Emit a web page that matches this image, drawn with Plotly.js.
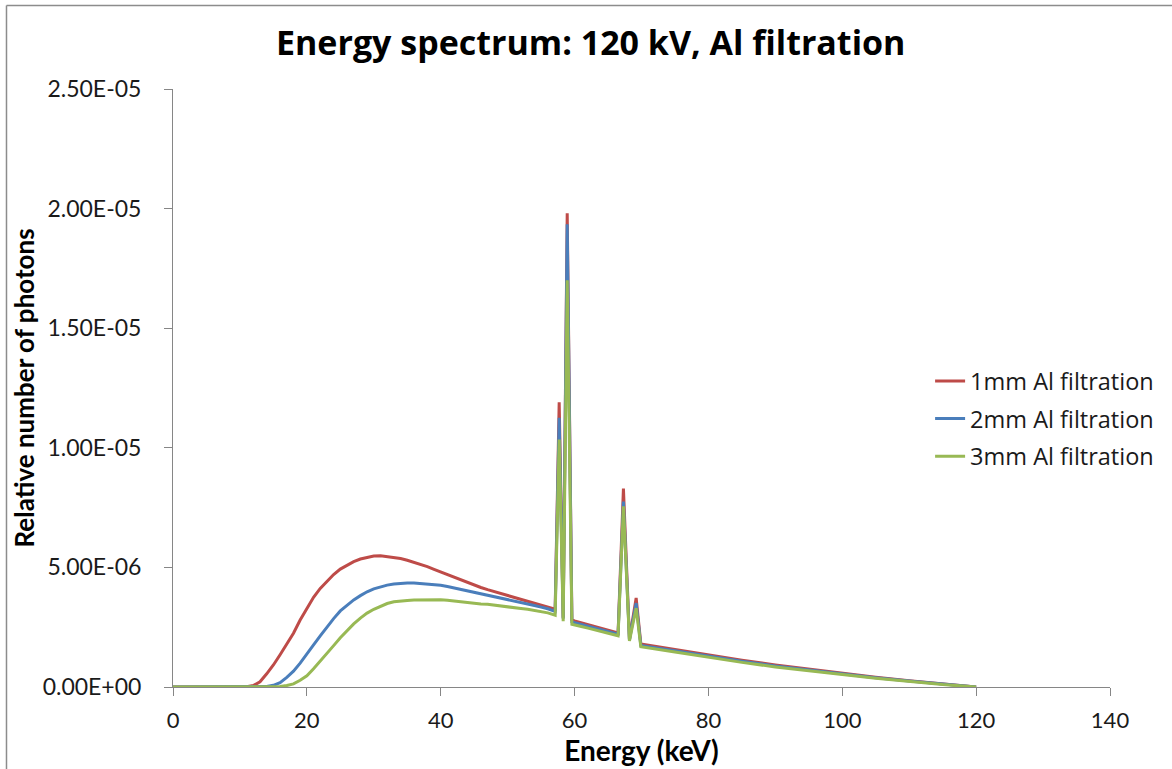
<!DOCTYPE html>
<html>
<head>
<meta charset="utf-8">
<script src="https://cdn.plot.ly/plotly-3.0.1.min.js"></script>
<style>
  html, body { margin: 0; padding: 0; background: #ffffff; }
  #chart { width: 1172px; height: 769px; }
</style>
</head>
<body>
<div id="chart"></div>
<script>
// Energy (keV)
const energy = [0, 5,
  10, 11, 12, 13, 14, 15, 16, 17, 18, 19, 20, 21, 22, 23, 24, 25, 26, 27, 28, 29,
  30, 31, 32, 33, 34, 35, 36, 37, 38, 39, 40, 41, 42, 43, 44, 45, 46, 47, 48, 49,
  50, 51, 52, 53, 54, 55, 56,
  57.1, 57.7, 58.3, 58.9, 59.6,
  60, 61, 62, 63, 64, 65, 66,
  66.5, 67.3, 68.2, 69.2, 69.9,
  75, 80, 85, 90, 95, 100, 105, 110, 115, 120];

// Relative number of photons, in units of 1E-06
const al1mm = [0, 0,
  0, 0.01, 0.06, 0.22, 0.55, 0.92, 1.35, 1.78, 2.25, 2.8, 3.3, 3.75, 4.12, 4.42, 4.7, 4.93, 5.1, 5.24, 5.35, 5.43,
  5.48, 5.49, 5.46, 5.42, 5.37, 5.30, 5.22, 5.13, 5.03, 4.92, 4.81, 4.70, 4.58, 4.47, 4.36, 4.25, 4.16, 4.07, 3.99, 3.91,
  3.82, 3.74, 3.65, 3.58, 3.51, 3.44, 3.36,
  3.25, 11.9, 2.9, 19.8, 2.8,
  2.76, 2.68, 2.6, 2.53, 2.45, 2.38, 2.30,
  2.26, 8.3, 2.0, 3.72, 1.80,
  1.57, 1.34, 1.12, 0.92, 0.74, 0.57, 0.41, 0.26, 0.12, 0];

const al2mm = [0, 0,
  0, 0, 0, 0, 0.02, 0.07, 0.18, 0.4, 0.66, 1.0, 1.36, 1.76, 2.14, 2.52, 2.86, 3.18, 3.42, 3.64, 3.82, 3.98,
  4.1, 4.19, 4.26, 4.31, 4.34, 4.35, 4.35, 4.33, 4.31, 4.28, 4.25, 4.20, 4.14, 4.08, 4.02, 3.97, 3.91, 3.85, 3.79, 3.74,
  3.68, 3.61, 3.54, 3.47, 3.41, 3.34, 3.27,
  3.16, 11.25, 2.85, 19.35, 2.72,
  2.69, 2.62, 2.54, 2.47, 2.40, 2.33, 2.25,
  2.21, 7.75, 1.97, 3.51, 1.74,
  1.52, 1.29, 1.08, 0.88, 0.71, 0.55, 0.39, 0.25, 0.11, 0];

const al3mm = [0, 0,
  0, 0, 0, 0, 0, 0, 0.02, 0.06, 0.13, 0.28, 0.47, 0.76, 1.07, 1.39, 1.73, 2.06, 2.36, 2.64, 2.88, 3.09,
  3.25, 3.38, 3.49, 3.56, 3.60, 3.62, 3.64, 3.65, 3.66, 3.66, 3.65, 3.63, 3.60, 3.56, 3.52, 3.48, 3.47, 3.46, 3.43, 3.39,
  3.36, 3.32, 3.28, 3.25, 3.21, 3.17, 3.10,
  3.00, 10.35, 2.75, 17.0, 2.62,
  2.6, 2.53, 2.46, 2.39, 2.32, 2.25, 2.18,
  2.14, 7.55, 1.93, 3.30, 1.68,
  1.46, 1.24, 1.03, 0.84, 0.67, 0.52, 0.37, 0.23, 0.10, 0];

const seriesNames = ["1mm Al filtration", "2mm Al filtration", "3mm Al filtration"];
const seriesColors = ["#BE4B48", "#4A7EBB", "#98B954"];

const yTickVals = [0, 5, 10, 15, 20, 25];
const yTickText = ["0.00E+00", "5.00E-06", "1.00E-05", "1.50E-05", "2.00E-05", "2.50E-05"];
const xTickVals = [0, 20, 40, 60, 80, 100, 120, 140];

const seriesData = [al1mm, al2mm, al3mm];
const traces = seriesData.map((ys, i) => ({
  type: "scatter",
  mode: "lines",
  x: energy,
  y: ys,
  name: seriesNames[i],
  legendgroup: "g" + i,
  line: { color: seriesColors[i], width: 3 },
  hoverinfo: "x+name"
}));

const fontFam = "Lato, 'Open Sans', sans-serif";
const legendFam = "'Open Sans', Lato, sans-serif";
const layout = {
  width: 1172,
  height: 769,
  margin: { l: 173, r: 62, t: 89, b: 82 },
  paper_bgcolor: "#ffffff",
  plot_bgcolor: "#ffffff",
  font: { family: fontFam, color: "#1a1a1a", size: 20 },
  title: {
    text: "<b>Energy spectrum: 120 kV, Al filtration</b>",
    font: { family: legendFam, size: 34, color: "#000000" },
    x: 0.504, xanchor: "center",
    y: 0.944, yanchor: "middle"
  },
  xaxis: {
    range: [0, 140],
    tickvals: xTickVals,
    ticks: "outside",
    ticklen: 8,
    tickcolor: "#868686",
    showline: true,
    linecolor: "#868686",
    linewidth: 1,
    showgrid: false,
    zeroline: false,
    tickfont: { size: 22, color: "#1a1a1a" },
    ticklabelstandoff: 6,
    title: { text: "<b>Energy (keV)</b>", font: { size: 28, color: "#000000" }, standoff: 8 }
  },
  yaxis: {
    range: [0, 25],
    tickvals: yTickVals,
    ticktext: yTickText,
    ticks: "outside",
    ticklen: 8,
    tickcolor: "#868686",
    showline: true,
    linecolor: "#868686",
    linewidth: 1,
    showgrid: false,
    zeroline: false,
    tickfont: { size: 23, color: "#1a1a1a" },
    ticklabelstandoff: 18,
    title: { text: "<b>Relative number of photons</b>", font: { size: 26, color: "#000000" }, standoff: 0 }
  },
  showlegend: true,
  legend: {
    x: 0.808, xanchor: "left",
    y: 0.548, yanchor: "top",
    bgcolor: "rgba(0,0,0,0)",
    font: { family: legendFam, size: 23.5, color: "#1a1a1a" },
    tracegroupgap: 4,
    itemwidth: 30
  },
  shapes: [
    { type: "line", xref: "paper", yref: "paper", x0: -0.1777, x1: -0.1777, y0: -0.15, y1: 1.1396,
      line: { color: "#8c8c8c", width: 1.5 } },
    { type: "line", xref: "paper", yref: "paper", x0: -0.1777, x1: 1.07, y0: 1.1396, y1: 1.1396,
      line: { color: "#8c8c8c", width: 1.5 } }
  ]
};

Plotly.newPlot("chart", traces, layout, { displayModeBar: false, staticPlot: true });
</script>
</body>
</html>
